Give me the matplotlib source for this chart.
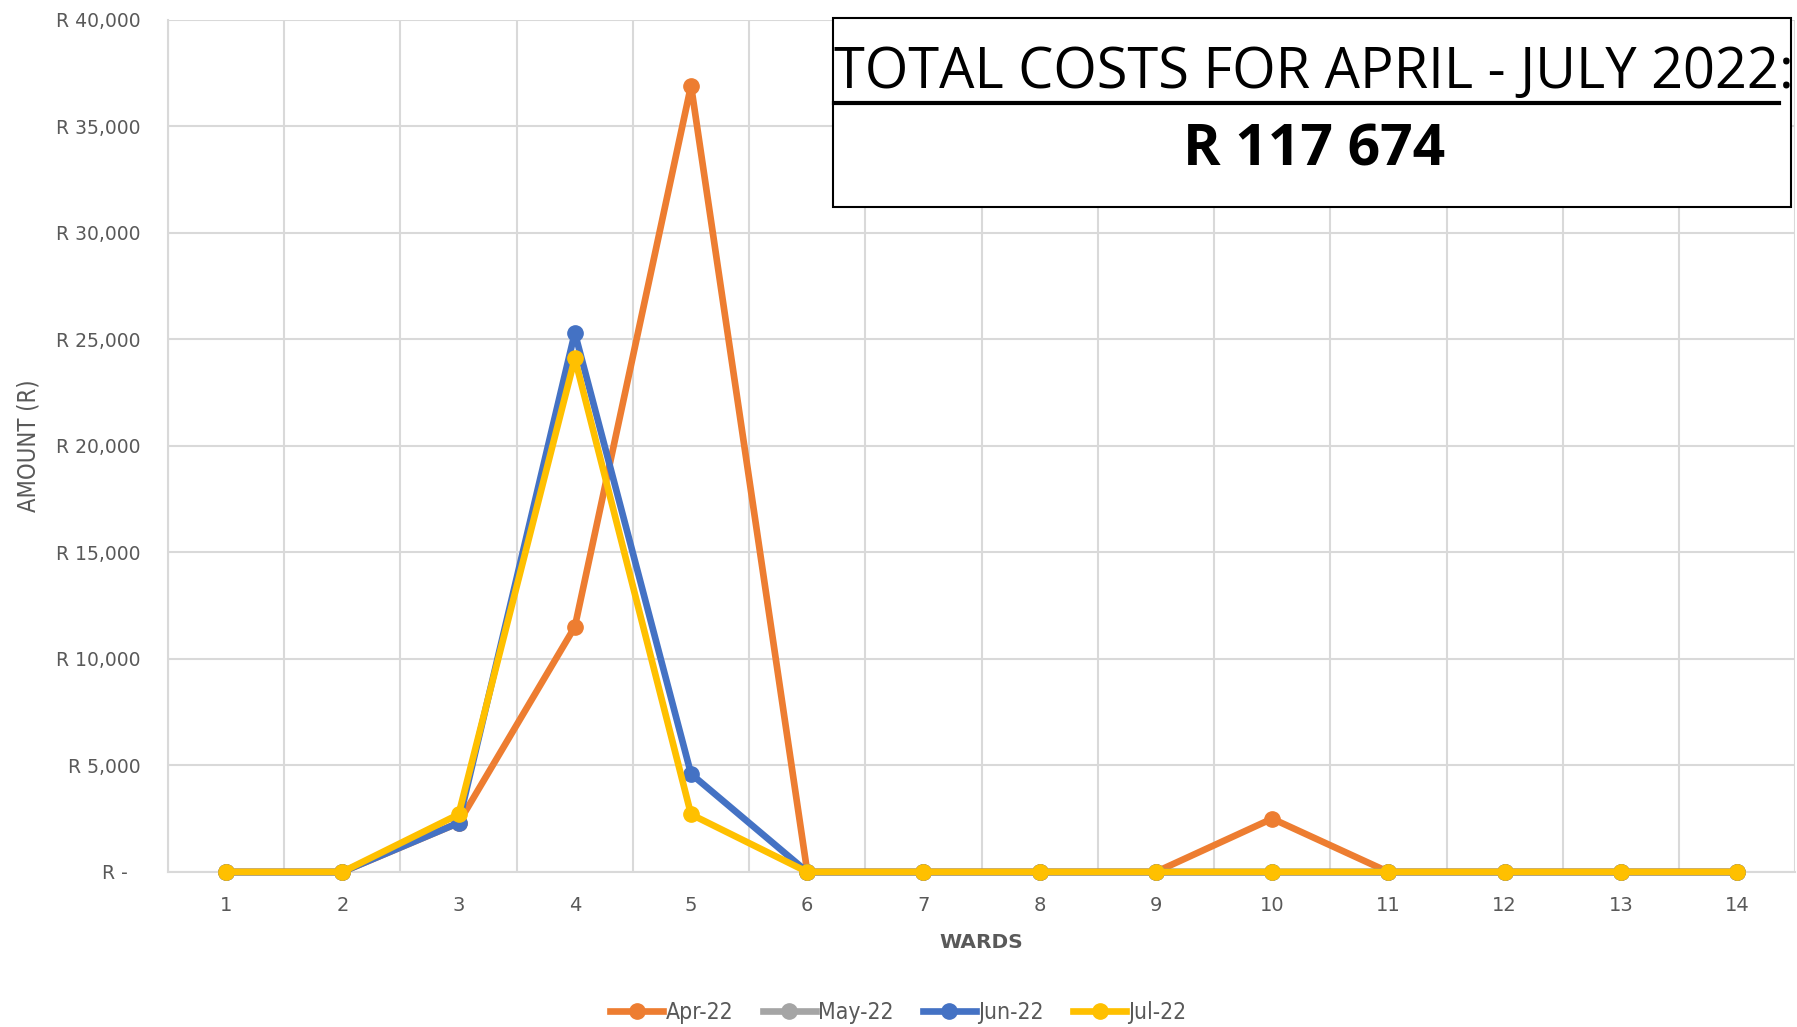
import matplotlib
matplotlib.use("Agg")
import matplotlib.pyplot as plt
from matplotlib.ticker import FuncFormatter, MultipleLocator
from matplotlib.lines import Line2D

nan = float("nan")
wards = list(range(1, 15))
apr_22 = [0, 0, 2300, 11500, 36900, 0, 0, 0, 0, 2500, 0, 0, 0, 0]
may_22 = [0, 0, nan, nan, nan, 0, 0, 0, 0, 0, 0, 0, 0, 0]
jun_22 = [0, 0, 2300, 25300, 4600, 0, 0, 0, 0, 0, 0, 0, 0, 0]
jul_22 = [0, 0, 2700, 24100, 2700, 0, 0, 0, 0, 0, 0, 0, 0, 0]
series_names = ["Apr-22", "May-22", "Jun-22", "Jul-22"]
colors = ["#ED7D31", "#A5A5A5", "#4472C4", "#FFC000"]

title_text = "TOTAL COSTS FOR APRIL - JULY 2022"
total_text = "R 117 674"

grey = "#595959"
grid_c = "#d9d9d9"

fig = plt.figure(figsize=(17.97, 10.27), dpi=100)
ax = fig.add_axes([0.0935, 0.151, 0.9055, 0.830])

for vals, name, c in zip([apr_22, may_22, jun_22, jul_22], series_names, colors):
    ax.plot(wards, vals, color=c, lw=4.8, marker="o", ms=11, label=name,
            solid_joinstyle="round", clip_on=False, zorder=3)

ax.set_xlim(0.5, 14.5)
ax.set_ylim(0, 40000)
ax.set_xticks(wards)
ax.xaxis.set_minor_locator(MultipleLocator(1, offset=0.5))
ax.yaxis.set_major_locator(MultipleLocator(5000))
ax.yaxis.set_major_formatter(FuncFormatter(lambda v, p: "R -  " if v == 0 else f"R {v:,.0f}"))
ax.grid(True, which="major", axis="y", color=grid_c, lw=1.5)
ax.grid(True, which="minor", axis="x", color=grid_c, lw=1.5)
ax.tick_params(which="both", length=0)
ax.tick_params(axis="y", labelsize=13.5, labelcolor=grey, pad=20)
ax.tick_params(axis="x", labelsize=14, labelcolor=grey, pad=17)
for s in ["top", "right"]:
    ax.spines[s].set_visible(False)
for s in ["left", "bottom"]:
    ax.spines[s].set_color(grid_c)
    ax.spines[s].set_linewidth(1.5)

ax.set_xlabel("WARDS", fontsize=14.5, color=grey, fontweight="bold", labelpad=13)
ax.set_ylabel("AMOUNT (R)", fontsize=17, color=grey, family="DejaVu Sans",
              stretch="condensed", labelpad=11)

handles = [Line2D([0], [0], color=c, lw=4.8, marker="o", ms=11) for c in colors]
leg = fig.legend(handles, series_names, loc="center", bbox_to_anchor=(0.5, 0.014), ncol=4,
                 frameon=False, fontsize=16.5, handlelength=2.3, handletextpad=0.1,
                 columnspacing=1.3)
for t in leg.get_texts():
    t.set_color(grey)
    t.set_fontstretch("condensed")

# text box with total
box_l, box_b, box_r, box_t = 0.4636, 0.7984, 0.9967, 0.9825
fig.patches.append(plt.Rectangle((box_l, box_b), box_r - box_l, box_t - box_b,
                                 transform=fig.transFigure, facecolor="white",
                                 edgecolor="black", lw=1.5, zorder=5))
W, H = fig.bbox.width, fig.bbox.height
t1 = fig.text(box_l + 0.0005, 0.928, title_text, fontsize=40, family="Open Sans",
              ha="left", va="center", zorder=6)
fig.canvas.draw()
# fit the title to the width it takes in the reference (up to the colon)
target = (0.9885 - box_l) * W
t1.set_fontsize(40 * target / t1.get_window_extent().width)
fig.canvas.draw()
bb = t1.get_window_extent()
fig.text(bb.x1 / W, 0.928, ":", fontsize=t1.get_fontsize(), family="Open Sans",
         ha="left", va="center", zorder=6)
uy = (bb.y0 - 1) / H
fig.add_artist(Line2D([bb.x0 / W, bb.x1 / W], [uy, uy],
                      transform=fig.transFigure, color="black", lw=3, zorder=6))
fig.text(0.731, 0.853, total_text, fontsize=41, fontweight="bold", family="Open Sans",
         ha="center", va="center", zorder=6)

fig.savefig("out.png", dpi=100)
